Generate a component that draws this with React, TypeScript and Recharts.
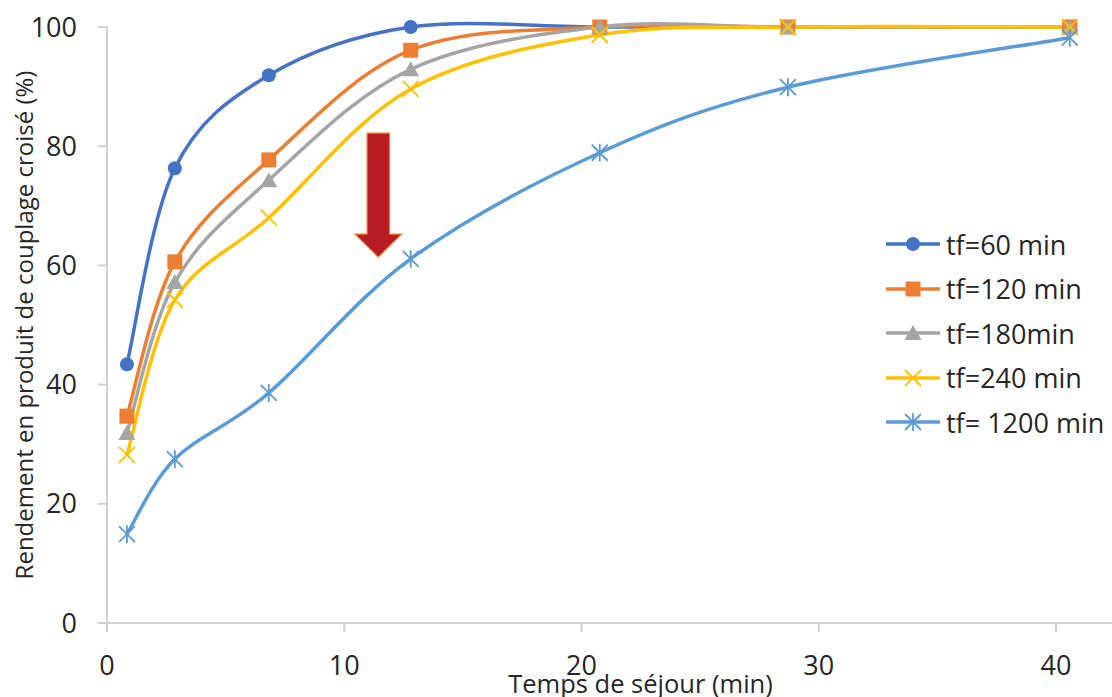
import React from 'react';
import {
  Line,
  LineChart,
  ReferenceArea,
  XAxis,
  YAxis,
} from 'recharts';

const times = [0.84, 2.86, 6.82, 12.8, 20.77, 28.7, 40.58];
const tf60 = [43.4, 76.3, 91.9, 100, 100, 100, 100];
const tf120 = [34.7, 60.6, 77.7, 96.1, 100, 100, 100];
const tf180 = [31.9, 57.2, 74.3, 92.9, 100, 100, 100];
const tf240 = [28.2, 54.2, 68.0, 89.6, 98.7, 100, 100];
const tf1200 = [14.9, 27.5, 38.6, 61.1, 78.9, 89.9, 98.2];
const xTicks = [0, 10, 20, 30, 40];
const yTicks = [0, 20, 40, 60, 80, 100];

const series = [
  { key: 'tf60', name: 'tf=60 min', color: '#4472C4', shape: 'circle', values: tf60 },
  { key: 'tf120', name: 'tf=120 min', color: '#ED7D31', shape: 'square', values: tf120 },
  { key: 'tf180', name: 'tf=180min', color: '#A5A5A5', shape: 'triangle', values: tf180 },
  { key: 'tf240', name: 'tf=240 min', color: '#FFC000', shape: 'cross', values: tf240 },
  { key: 'tf1200', name: 'tf= 1200 min', color: '#5B9BD5', shape: 'star', values: tf1200 },
];

const data = times.map((t, i) => {
  const row: Record<string, number> = { t };
  series.forEach((s) => {
    row[s.key] = s.values[i];
  });
  return row;
});

const FONT = '"Open Sans", "Liberation Sans", sans-serif';

// excel-like smoothed line (bezier through each point, 1/6 tangent)
const excelCurve = (context: any) => {
  let pts: number[][] = [];
  return {
    areaStart() {},
    areaEnd() {},
    lineStart() {
      pts = [];
    },
    point(x: number, y: number) {
      pts.push([+x, +y]);
    },
    lineEnd() {
      if (!pts.length) return;
      context.moveTo(pts[0][0], pts[0][1]);
      const k = 1 / 6;
      for (let i = 0; i < pts.length - 1; i++) {
        const p0 = pts[i - 1] || pts[i];
        const p1 = pts[i];
        const p2 = pts[i + 1];
        const p3 = pts[i + 2] || p2;
        context.bezierCurveTo(
          p1[0] + (p2[0] - p0[0]) * k,
          p1[1] + (p2[1] - p0[1]) * k,
          p2[0] - (p3[0] - p1[0]) * k,
          p2[1] - (p3[1] - p1[1]) * k,
          p2[0],
          p2[1],
        );
      }
    },
  };
};

function Marker({ shape, color, cx, cy }: { shape: string; color: string; cx: number; cy: number }) {
  switch (shape) {
    case 'circle':
      return <circle cx={cx} cy={cy} r={7} fill={color} />;
    case 'square':
      return <rect x={cx - 7.5} y={cy - 7.5} width={15} height={15} fill={color} />;
    case 'triangle':
      return <polygon points={`${cx},${cy - 8} ${cx + 8.5},${cy + 7} ${cx - 8.5},${cy + 7}`} fill={color} />;
    case 'cross':
      return (
        <g stroke={color} strokeWidth={1.8}>
          <line x1={cx - 8} y1={cy - 8} x2={cx + 8} y2={cy + 8} />
          <line x1={cx - 8} y1={cy + 8} x2={cx + 8} y2={cy - 8} />
        </g>
      );
    default:
      return (
        <g stroke={color} strokeWidth={1.8}>
          <line x1={cx - 8} y1={cy - 8} x2={cx + 8} y2={cy + 8} />
          <line x1={cx - 8} y1={cy + 8} x2={cx + 8} y2={cy - 8} />
          <line x1={cx} y1={cy - 9} x2={cx} y2={cy + 9} />
        </g>
      );
  }
}

const dotFor = (shape: string, color: string) => (props: any) => {
  const { cx, cy, index } = props;
  if (cx == null || cy == null) return <g key={index} />;
  return (
    <g key={index}>
      <Marker shape={shape} color={color} cx={cx} cy={cy} />
    </g>
  );
};

const Arrow = (props: any) => {
  const { x, y, width, height } = props;
  const cx = x + width / 2;
  const shaft = width * 0.24;
  const headTop = y + height * 0.815;
  const pts = [
    [cx - shaft, y],
    [cx + shaft, y],
    [cx + shaft, headTop],
    [x + width, headTop],
    [cx, y + height],
    [x, headTop],
    [cx - shaft, headTop],
  ]
    .map((p) => p.join(','))
    .join(' ');
  return <polygon points={pts} fill="#B81D24" stroke="#F08030" strokeWidth={1.2} />;
};

export default function App() {
  return (
    <div style={{ position: 'absolute', left: 0, top: 0, width: 1112, height: 697, background: '#fff' }}>
      <LineChart
        width={1112}
        height={697}
        data={data}
        margin={{ top: 27, right: 0, bottom: 0, left: 0 }}
      >
        <XAxis
          dataKey="t"
          type="number"
          domain={[0, 42.36]}
          ticks={xTicks}
          allowDataOverflow
          height={74}
          tickSize={9}
          tickMargin={24}
          axisLine={{ stroke: '#D0D0D0', strokeWidth: 2 }}
          tickLine={{ stroke: '#D0D0D0', strokeWidth: 2 }}
          tick={{ fill: '#262626', fontSize: 27, fontFamily: FONT }}
          label={(props: any) => {
            const vb = props.viewBox;
            return (
              <text
                x={vb.x + vb.width / 2 + 31}
                y={vb.y + 70}
                textAnchor="middle"
                fill="#262626"
                fontSize={25.5}
                fontFamily={FONT}
              >
                Temps de séjour (min)
              </text>
            );
          }}
        />
        <YAxis
          domain={[0, 100]}
          ticks={yTicks}
          width={107}
          tickSize={9}
          tickMargin={21}
          axisLine={{ stroke: '#D0D0D0', strokeWidth: 2 }}
          tickLine={{ stroke: '#D0D0D0', strokeWidth: 2 }}
          tick={{ fill: '#262626', fontSize: 27, fontFamily: FONT }}
          label={(props: any) => {
            const vb = props.viewBox;
            const cy = vb.y + vb.height / 2;
            return (
              <text
                x={23}
                y={cy}
                transform={`rotate(-90, 23, ${cy})`}
                textAnchor="middle"
                dominantBaseline="central"
                fill="#262626"
                fontSize={24}
                fontFamily={FONT}
              >
                Rendement en produit de couplage croisé (%)
              </text>
            );
          }}
        />
        <ReferenceArea x1={10.45} x2={12.42} y1={61.4} y2={82.2} shape={Arrow} />
        {series.map((s) => (
          <Line
            key={s.key}
            dataKey={s.key}
            name={s.name}
            type={excelCurve as any}
            stroke={s.color}
            strokeWidth={3.5}
            dot={dotFor(s.shape, s.color)}
            activeDot={false}
            isAnimationActive={false}
          />
        ))}
      </LineChart>
      <div
        style={{
          position: 'absolute',
          left: 884,
          top: 222,
          fontFamily: FONT,
          fontSize: 27,
          color: '#262626',
          whiteSpace: 'nowrap',
        }}
      >
        {series.map((s) => (
          <div key={s.key} style={{ display: 'flex', alignItems: 'center', height: 44.5 }}>
            <svg width={58} height={24} style={{ marginRight: 4 }}>
              <line x1={2} y1={12} x2={56} y2={12} stroke={s.color} strokeWidth={3.5} />
              <Marker shape={s.shape} color={s.color} cx={29} cy={12} />
            </svg>
            <span>{s.name}</span>
          </div>
        ))}
      </div>
    </div>
  );
}
